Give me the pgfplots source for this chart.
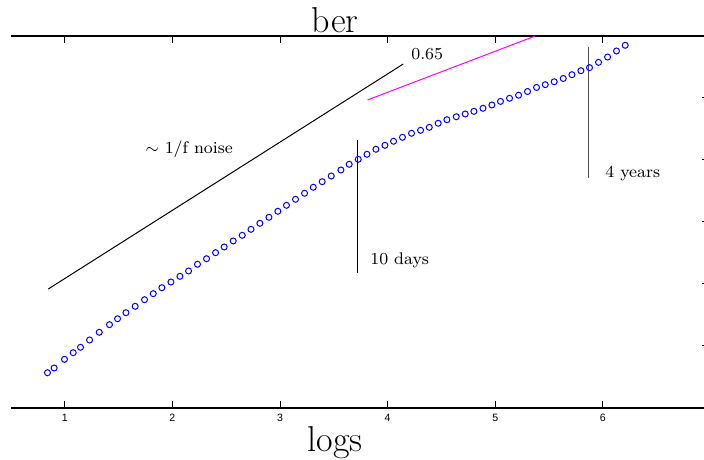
\documentclass[border=0pt]{standalone}
\usepackage{fontspec}
\usepackage{pgfplots}
\pgfplotsset{compat=1.18}
\newfontfamily\ticksans{Liberation Sans}
\definecolor{mag}{RGB}{255,0,255}
\definecolor{pblue}{RGB}{0,0,255}
\begin{document}
\begin{tikzpicture}
\useasboundingbox (0,0) rectangle (352pt,229.5pt);
\begin{axis}[
  at={(5.5pt,25.5pt)}, anchor=south west,
  scale only axis, width=346.6pt, height=186pt,
  xmin=0.5, xmax=6.942, ymin=0, ymax=6,
  separate axis lines,
  x axis line style={line width=0.75pt},
  y axis line style={draw=none},
  xtick={1,2,3,4,5,6},
  xtick pos=both,
  ytick=\empty,
  extra y ticks={1,2,3,4,5},
  extra y tick labels={},
  extra y tick style={ytick pos=right, major tick length=1.2pt},
  major tick length=3.5pt,
  tick style={black, line width=0.5pt},
  /pgf/number format/assume math mode=true,
  xticklabel style={font=\ticksans\fontsize{5.3}{6}\selectfont, inner sep=0pt, yshift=-3pt},
  every axis title shift=0pt,
  title={ber},
  title style={at={(axis description cs:0.4675,1)}, anchor=base, yshift=1.5pt, font=\fontsize{18}{20}\selectfont},
  xlabel={logs},
  xlabel style={at={(axis description cs:0.4675,0)}, anchor=base, yshift=-21.5pt, font=\fontsize{18}{20}\selectfont},
]
\addplot[only marks, mark=o, mark size=1.5pt, color=pblue, mark options={line width=0.5pt}] coordinates {
(0.839,0.569) (0.901,0.645) (0.997,0.785) (1.078,0.892) (1.146,0.979)
(1.230,1.097) (1.320,1.221) (1.415,1.344) (1.490,1.440) (1.568,1.537)
(1.654,1.640) (1.741,1.747) (1.822,1.844) (1.902,1.940) (1.986,2.032)
(2.070,2.124) (2.150,2.210) (2.233,2.318) (2.317,2.408) (2.401,2.505)
(2.481,2.597) (2.565,2.694) (2.649,2.785) (2.730,2.882) (2.813,2.979)
(2.897,3.076) (2.980,3.173) (3.060,3.269) (3.144,3.366) (3.228,3.463)
(3.309,3.560) (3.392,3.650) (3.476,3.742) (3.566,3.839) (3.643,3.931)
(3.727,4.011) (3.808,4.092) (3.891,4.173) (3.975,4.237) (4.055,4.302)
(4.138,4.366) (4.222,4.431) (4.306,4.479) (4.387,4.527) (4.470,4.592)
(4.551,4.650) (4.638,4.698) (4.721,4.742) (4.802,4.785) (4.886,4.834)
(4.969,4.887) (5.049,4.945) (5.133,4.995) (5.217,5.045) (5.300,5.105)
(5.384,5.170) (5.465,5.215) (5.548,5.262) (5.632,5.315) (5.713,5.376)
(5.796,5.440) (5.876,5.490) (5.960,5.575) (6.044,5.661) (6.127,5.758)
(6.208,5.850)
};
\addplot[black, line width=0.5pt] coordinates {(0.846,1.919) (4.145,5.548)};
\addplot[mag, line width=0.5pt] coordinates {(3.813,4.968) (5.372,6.0)};
\addplot[black, line width=0.5pt] coordinates {(3.720,2.177) (3.720,4.323)};
\addplot[black!70, line width=0.6pt] coordinates {(5.864,3.710) (5.864,5.823)};
\node[font=\fontsize{8.4}{10}\selectfont] at (axis cs:4.368,5.715) {0.65};
\node[font=\fontsize{8.4}{10}\selectfont] at (axis cs:2.156,4.177) {$\sim$ 1/f noise};
\node[font=\fontsize{8.4}{10}\selectfont] at (axis cs:4.112,2.387) {10 days};
\node[font=\fontsize{8.4}{10}\selectfont] at (axis cs:6.278,3.774) {4 years};
\end{axis}
\end{tikzpicture}
\end{document}
